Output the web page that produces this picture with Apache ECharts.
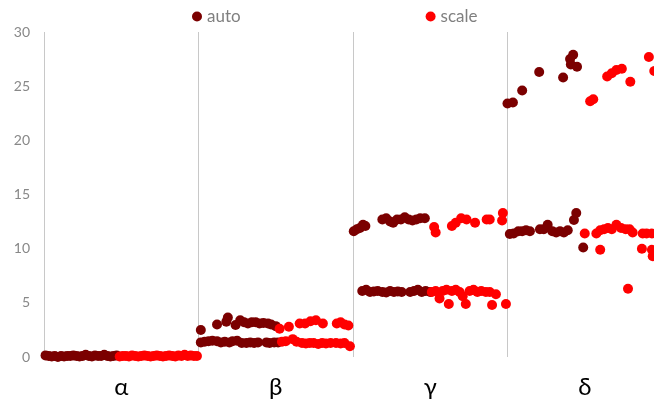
<!DOCTYPE html>
<html>
<head>
<meta charset="utf-8">
<script src="https://cdn.jsdelivr.net/npm/echarts@6/dist/echarts.min.js"></script>
<style>
  html, body { margin: 0; padding: 0; background: #fff; }
  #chart { width: 654px; height: 411px; }
</style>
</head>
<body>
<div id="chart"></div>
<script>
// Group labels along the bottom
const categories = ['α', 'β', 'γ', 'δ'];
const yTicks = [0, 5, 10, 15, 20, 25, 30];
const seriesNames = ['auto', 'scale'];

// Each point: [position within its group (0..1), value]
const autoAlpha = [
  [0.01, 0.15], [0.03, 0.1], [0.05, 0.05], [0.07, 0.1], [0.09, 0.0], [0.11, 0.1],
  [0.13, 0.05], [0.15, 0.1], [0.17, 0.1], [0.19, 0.15], [0.21, 0.1], [0.23, 0.05],
  [0.25, 0.1], [0.27, 0.2], [0.29, 0.1], [0.31, 0.05], [0.33, 0.15], [0.35, 0.1],
  [0.37, 0.1], [0.39, 0.2], [0.41, 0.1], [0.43, 0.05], [0.45, 0.1], [0.47, 0.15]
];
const scaleAlpha = [
  [0.49, 0.05], [0.51, 0.1], [0.53, 0.1], [0.55, 0.05], [0.57, 0.15], [0.59, 0.1],
  [0.61, 0.05], [0.63, 0.1], [0.65, 0.15], [0.67, 0.1], [0.69, 0.05], [0.71, 0.1],
  [0.73, 0.15], [0.75, 0.1], [0.77, 0.05], [0.79, 0.1], [0.81, 0.15], [0.83, 0.1],
  [0.85, 0.05], [0.87, 0.15], [0.89, 0.1], [0.91, 0.2], [0.93, 0.1], [0.95, 0.15],
  [0.97, 0.1], [0.99, 0.1]
];

const autoBeta = [
  [0.015, 1.35], [0.04, 1.4], [0.065, 1.45], [0.09, 1.5], [0.12, 1.45], [0.145, 1.35],
  [0.17, 1.4], [0.2, 1.35], [0.22, 1.45], [0.25, 1.5], [0.28, 1.3], [0.31, 1.3],
  [0.335, 1.35], [0.36, 1.3], [0.385, 1.35], [0.44, 1.35], [0.46, 1.3], [0.49, 1.35],
  [0.515, 1.35],
  [0.015, 2.5], [0.12, 3.0], [0.18, 3.25], [0.19, 3.65], [0.24, 2.95], [0.27, 3.4],
  [0.295, 3.2], [0.32, 3.1], [0.345, 3.2], [0.37, 3.2], [0.395, 3.1], [0.42, 3.15],
  [0.45, 3.1], [0.47, 3.0], [0.5, 2.85]
];
const scaleBeta = [
  [0.525, 2.6], [0.585, 2.8], [0.655, 3.1], [0.69, 3.1], [0.725, 3.3], [0.76, 3.4],
  [0.805, 3.1], [0.895, 3.1], [0.92, 3.2], [0.945, 3.0], [0.97, 2.9],
  [0.54, 1.4], [0.565, 1.45], [0.61, 1.65], [0.635, 1.4], [0.67, 1.3], [0.695, 1.25],
  [0.72, 1.3], [0.745, 1.3], [0.775, 1.2], [0.8, 1.3], [0.825, 1.25], [0.855, 1.3],
  [0.89, 1.3], [0.92, 1.25], [0.945, 1.3], [0.98, 1.0]
];

const autoGamma = [
  [0.005, 11.6], [0.025, 11.8], [0.045, 11.9], [0.065, 12.2], [0.08, 12.1],
  [0.19, 12.7], [0.215, 12.8], [0.24, 12.5], [0.26, 12.4], [0.285, 12.7], [0.31, 12.7],
  [0.335, 12.9], [0.36, 12.7], [0.385, 12.6], [0.41, 12.7], [0.435, 12.8], [0.465, 12.8],
  [0.06, 6.1], [0.085, 6.2], [0.11, 6.0], [0.135, 6.05], [0.16, 6.1], [0.19, 6.0],
  [0.215, 5.95], [0.24, 6.1], [0.265, 6.0], [0.29, 6.05], [0.315, 6.0], [0.37, 6.0],
  [0.395, 6.1], [0.42, 6.2], [0.445, 6.0], [0.47, 6.1], [0.5, 6.0]
];
const scaleGamma = [
  [0.525, 12.0], [0.535, 11.5], [0.64, 12.1], [0.665, 12.4], [0.7, 12.8], [0.735, 12.7],
  [0.79, 12.4], [0.865, 12.7], [0.885, 12.7], [0.965, 12.6], [0.97, 13.3],
  [0.51, 6.0], [0.535, 6.1], [0.56, 5.4], [0.58, 6.1], [0.605, 6.2], [0.62, 4.9],
  [0.64, 6.1], [0.665, 6.2], [0.69, 6.0], [0.71, 5.6], [0.73, 4.9], [0.755, 6.1],
  [0.78, 6.2], [0.805, 6.0], [0.83, 6.1], [0.86, 6.0], [0.885, 6.0], [0.9, 4.8],
  [0.925, 5.8], [0.99, 4.9]
];

const autoDelta = [
  [0.0, 23.4], [0.035, 23.5], [0.095, 24.6], [0.205, 26.3], [0.36, 25.8], [0.405, 27.5],
  [0.425, 27.9], [0.41, 27.0], [0.45, 26.8],
  [0.015, 11.35], [0.04, 11.4], [0.07, 11.6], [0.095, 11.6], [0.12, 11.7], [0.145, 11.6],
  [0.21, 11.8], [0.235, 11.8], [0.26, 12.2], [0.29, 11.6], [0.315, 11.5], [0.34, 11.6],
  [0.365, 11.5], [0.39, 11.7], [0.43, 12.65], [0.445, 13.3], [0.49, 10.1]
];
const scaleDelta = [
  [0.535, 23.6], [0.555, 23.8], [0.645, 25.9], [0.675, 26.2], [0.705, 26.5], [0.74, 26.6],
  [0.795, 25.4], [0.915, 27.7], [0.95, 26.4],
  [0.5, 11.4], [0.575, 11.4], [0.6, 11.7], [0.625, 11.8], [0.65, 11.9], [0.675, 11.8],
  [0.705, 12.2], [0.735, 11.9], [0.765, 11.8], [0.79, 11.8], [0.81, 11.5], [0.875, 11.4],
  [0.9, 11.4], [0.935, 11.4], [0.6, 9.9], [0.87, 10.0], [0.935, 9.9], [0.94, 9.3],
  [0.78, 6.3]
];

const autoGroups = [autoAlpha, autoBeta, autoGamma, autoDelta];
const scaleGroups = [scaleAlpha, scaleBeta, scaleGamma, scaleDelta];

// Shift each group's points into its own slot on the shared value axis
function place(groups) {
  const out = [];
  groups.forEach((pts, i) => pts.forEach(p => out.push([i + p[0], p[1]])));
  return out;
}

const FONT = 'Lato, "Open Sans", sans-serif';
const chart = echarts.init(document.getElementById('chart'));
chart.setOption({
  animation: false,
  backgroundColor: '#fff',
  legend: {
    left: 187,
    top: 3,
    itemGap: 185,
    itemWidth: 10,
    itemHeight: 10,
    icon: 'circle',
    data: seriesNames,
    textStyle: { color: '#7f7f7f', fontSize: 17, fontFamily: FONT }
  },
  // the last group runs a little past the right edge of the canvas
  grid: { left: 44, width: 618, top: 32, bottom: 54, outerBoundsMode: 'none', containLabel: false },
  xAxis: [
    {
      type: 'category',
      data: categories,
      boundaryGap: true,
      axisLine: { show: false },
      axisTick: { show: false },
      axisLabel: { color: '#000', fontSize: 24, fontFamily: FONT, margin: 18 },
      splitLine: { show: true, lineStyle: { color: '#c8c8c8', width: 1 } }
    },
    {
      type: 'value',
      min: 0,
      max: categories.length,
      show: false
    }
  ],
  yAxis: {
    type: 'value',
    min: yTicks[0],
    max: yTicks[yTicks.length - 1],
    interval: yTicks[1] - yTicks[0],
    axisLine: { show: false },
    axisTick: { show: false },
    splitLine: { show: false },
    axisLabel: { color: '#888', fontSize: 14, fontFamily: FONT, margin: 14 }
  },
  series: [
    {
      name: seriesNames[0],
      type: 'scatter',
      xAxisIndex: 1,
      symbolSize: 10,
      itemStyle: { color: '#7b0000', opacity: 1 },
      data: place(autoGroups)
    },
    {
      name: seriesNames[1],
      type: 'scatter',
      xAxisIndex: 1,
      symbolSize: 10,
      itemStyle: { color: '#ff0000', opacity: 1 },
      data: place(scaleGroups)
    }
  ]
});
</script>
</body>
</html>
